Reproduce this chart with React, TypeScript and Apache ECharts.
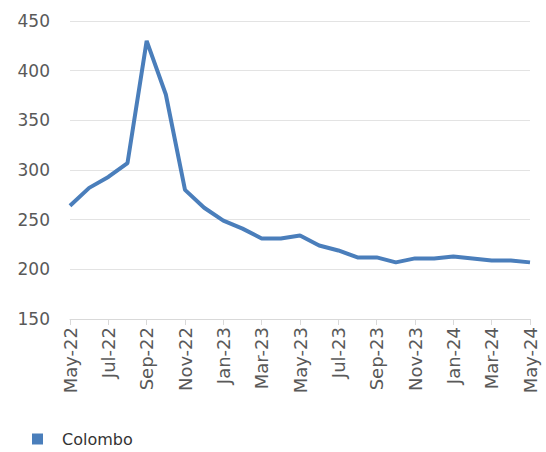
import React, { useEffect, useRef } from "react";
import * as echarts from "echarts";

const months = [
  "May-22", "Jun-22", "Jul-22", "Aug-22", "Sep-22", "Oct-22", "Nov-22", "Dec-22",
  "Jan-23", "Feb-23", "Mar-23", "Apr-23", "May-23", "Jun-23", "Jul-23", "Aug-23",
  "Sep-23", "Oct-23", "Nov-23", "Dec-23", "Jan-24", "Feb-24", "Mar-24", "Apr-24", "May-24",
];
const colombo = [
  264, 282, 293, 307, 430, 376, 280, 262, 249, 241, 231, 231, 234, 224, 219, 212,
  212, 207, 211, 211, 213, 211, 209, 209, 207,
];
const seriesName = "Colombo";

const FONT = "DejaVu Sans";
const TEXT = "#595959";

export default function App() {
  const ref = useRef<HTMLDivElement>(null);
  useEffect(() => {
    if (!ref.current) return;
    const chart = echarts.init(ref.current, undefined, { renderer: "svg" });
    chart.setOption({
      animation: false,
      grid: { left: 70, right: 16, top: 21, bottom: 133, containLabel: false },
      legend: {
        left: 32,
        top: 431,
        padding: 0,
        icon: "rect",
        itemWidth: 11,
        itemHeight: 11,
        itemGap: 20,
        data: [seriesName],
        textStyle: { fontFamily: FONT, fontSize: 16, color: "#333", padding: [0, 0, 0, 14] },
      },
      xAxis: {
        type: "category",
        data: months,
        boundaryGap: false,
        axisLine: { lineStyle: { color: "#d9d9d9", width: 1 } },
        axisTick: { show: true, interval: 1, length: 6, lineStyle: { color: "#d9d9d9" } },
        axisLabel: {
          interval: 1,
          rotate: 90,
          margin: 8,
          fontFamily: FONT,
          fontSize: 18,
          color: TEXT,
        },
      },
      yAxis: {
        type: "value",
        min: 150,
        max: 450,
        interval: 50,
        axisLine: { show: false },
        axisTick: { show: false },
        splitLine: { lineStyle: { color: "#e3e3e3", width: 1 } },
        axisLabel: { fontFamily: FONT, fontSize: 17, color: TEXT, margin: 20 },
      },
      series: [
        {
          name: seriesName,
          type: "line",
          data: colombo,
          showSymbol: false,
          symbol: "none",
          lineStyle: { color: "#4A7EBB", width: 4 },
          itemStyle: { color: "#4A7EBB" },
        },
      ],
    });
    return () => chart.dispose();
  }, []);
  return <div ref={ref} style={{ width: 546, height: 452, position: "absolute", left: 0, top: 0 }} />;
}
